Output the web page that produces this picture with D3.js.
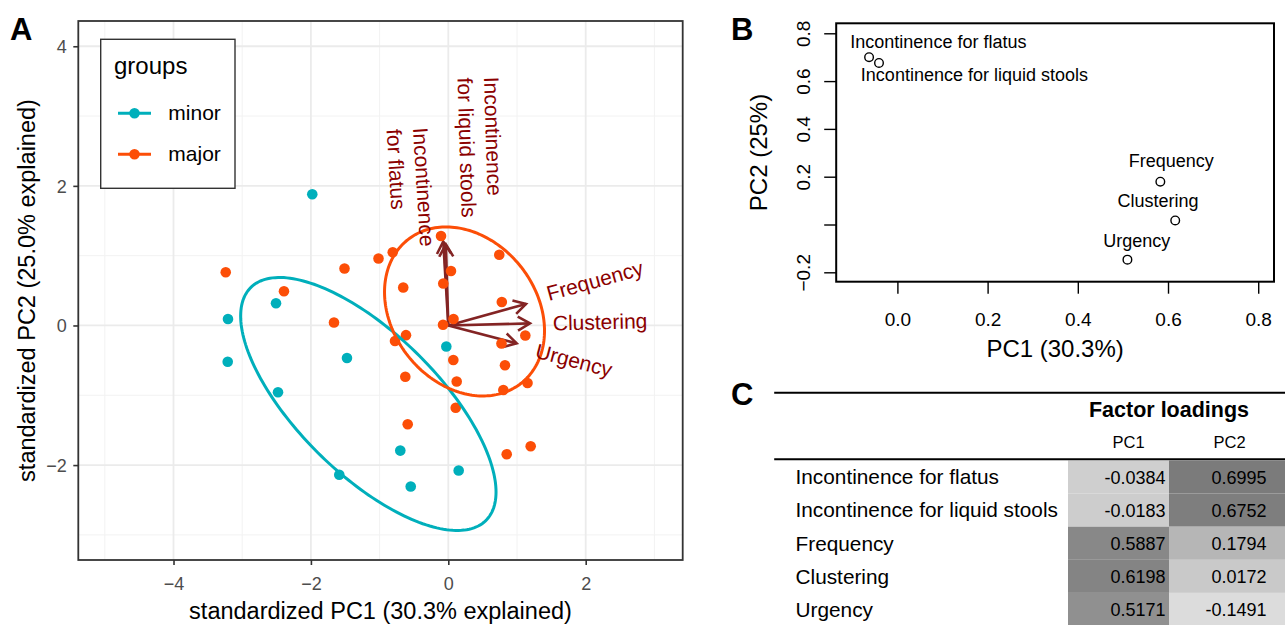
<!DOCTYPE html>
<html>
<head>
<meta charset="utf-8">
<script src="https://cdn.jsdelivr.net/npm/d3@7"></script>
<style>
  body { margin: 0; background: #fff; }
  svg { display: block; font-family: "Liberation Sans", Arial, Helvetica, sans-serif; }
</style>
</head>
<body>
<svg id="chart" width="1285" height="625"></svg>
<script>

// ---- data ----

// panel A: standardized PC scores
const groups = ["minor", "major"];
const minorX = [-1.980, -2.508, -3.207, -3.211, -2.479, -1.475, -0.029, -0.699, 0.151, -0.547, -1.587];
const minorY = [1.880, 0.318, 0.093, -0.519, -0.957, -0.466, -0.301, -1.793, -2.077, -2.307, -2.138];
const majorX = [-3.240, -2.392, -1.511, -1.016, -0.809, -0.106, 0.039, -0.073, -0.656, 0.742,
                0.779, 0.076, -0.077, -1.664, 1.121, 0.774, -0.616, -0.776, 0.073, 0.825,
                -0.626, 0.122, 1.153, 0.801, 0.108, -0.591, 0.850, 1.199];
const majorY = [0.762, 0.490, 0.817, 0.960, 1.049, 1.282, 0.781, 0.602, 0.544, 1.013,
                0.337, 0.093, 0.011, 0.043, -0.143, -0.258, -0.139, -0.222, -0.494, -0.570,
                -0.734, -0.802, -0.824, -0.924, -1.178, -1.415, -1.845, -1.731];

// ellipses (centre and covariance-like shape), one per group
const ellipseCx = [-1.164, 0.236];
const ellipseCy = [-1.125, 0.201];
const ellipseSxx = [3.455, 1.356];
const ellipseSyy = [3.285, 1.466];
const ellipseSxy = [-2.343, -0.323];

// variable arrows
const variables = ["Incontinence for flatus", "Incontinence for liquid stools", "Frequency", "Clustering", "Urgency"];
const arrowX = [-0.074, -0.035, 1.131, 1.189, 0.995];
const arrowY = [1.203, 1.161, 0.308, 0.030, -0.256];
const arrowLabelLines = [["Incontinence", "for flatus"], ["Incontinence", "for liquid stools"], ["Frequency"], ["Clustering"], ["Urgency"]];
const arrowLabelX = [-0.514, 0.520, 1.466, 1.524, 1.252];
const arrowLabelY = [2.830, 3.560, 0.351, -0.072, -0.458];

const aTicksX = [-4, -2, 0, 2];
const aTicksY = [-2, 0, 2, 4];
const aMinorX = [-5, -3, -1, 1, 3];
const aMinorY = [-3, -1, 1, 3];

// panel B: loadings plot
const bX = [-0.0628, -0.0408, 0.583, 0.616, 0.510];
const bY = [0.700, 0.676, 0.179, 0.017, -0.147];
const bLabelX = [-0.1044, -0.081, 0.513, 0.488, 0.4565];
const bLabelY = [0.737, 0.600, 0.242, 0.0745, -0.093];
const bTicksX = [0, 0.2, 0.4, 0.6, 0.8];
const bTickLabelsX = ["0.0", "0.2", "0.4", "0.6", "0.8"];
const bTicksY = [-0.2, 0, 0.2, 0.4, 0.6, 0.8];
const bTickLabelsY = ["\u22120.2", "", "0.2", "0.4", "0.6", "0.8"];

// panel C: factor loadings table
const components = ["PC1", "PC2"];
const loadPC1 = [-0.0384, -0.0183, 0.5887, 0.6198, 0.5171];
const loadPC2 = [0.6995, 0.6752, 0.1794, 0.0172, -0.1491];


const svg = d3.select("#chart");
const groupColor = d3.scaleOrdinal(groups, ["#00AFBB", "#FC4E07"]);
const narrowFont = "'Liberation Sans Narrow', 'Arial Narrow', 'Liberation Sans', sans-serif";

// ================= PANEL A =================
const A = { left: 78.3, right: 682.7, top: 21, bottom: 560 };
const xA = d3.scaleLinear([-5.386, 3.412], [A.left, A.right]);
const yA = d3.scaleLinear([-3.36, 4.362], [A.bottom, A.top]);

svg.append("defs").append("clipPath").attr("id", "clipA")
  .append("rect").attr("x", A.left).attr("y", A.top)
  .attr("width", A.right - A.left).attr("height", A.bottom - A.top);

const gA = svg.append("g");
const plotA = gA.append("g").attr("clip-path", "url(#clipA)");

// grid
plotA.selectAll(".minx").data(aMinorX).join("line")
  .attr("x1", d => xA(d)).attr("x2", d => xA(d)).attr("y1", A.top).attr("y2", A.bottom)
  .attr("stroke", "#f2f2f2").attr("stroke-width", 1);
plotA.selectAll(".miny").data(aMinorY).join("line")
  .attr("y1", d => yA(d)).attr("y2", d => yA(d)).attr("x1", A.left).attr("x2", A.right)
  .attr("stroke", "#f2f2f2").attr("stroke-width", 1);
plotA.selectAll(".majx").data(aTicksX).join("line")
  .attr("x1", d => xA(d)).attr("x2", d => xA(d)).attr("y1", A.top).attr("y2", A.bottom)
  .attr("stroke", "#ebebeb").attr("stroke-width", 1.8);
plotA.selectAll(".majy").data(aTicksY).join("line")
  .attr("y1", d => yA(d)).attr("y2", d => yA(d)).attr("x1", A.left).attr("x2", A.right)
  .attr("stroke", "#ebebeb").attr("stroke-width", 1.8);

// arrows
const arrowColor = "#832424";
const arrows = variables.map((v, i) => ({ name: v, x: arrowX[i], y: arrowY[i], lines: arrowLabelLines[i], lx: arrowLabelX[i], ly: arrowLabelY[i] }));

function arrowHead(x0, y0, x1, y1, len, ang) {
  const a = Math.atan2(y1 - y0, x1 - x0);
  const p1 = [x1 - len * Math.cos(a - ang), y1 - len * Math.sin(a - ang)];
  const p2 = [x1 - len * Math.cos(a + ang), y1 - len * Math.sin(a + ang)];
  return `M${p1[0]},${p1[1]}L${x1},${y1}L${p2[0]},${p2[1]}`;
}

plotA.selectAll(".arrowline").data(arrows).join("line")
  .attr("x1", xA(0)).attr("y1", yA(0))
  .attr("x2", d => xA(d.x)).attr("y2", d => yA(d.y))
  .attr("stroke", arrowColor).attr("stroke-width", 2.6);
plotA.selectAll(".arrowhead").data(arrows).join("path")
  .attr("d", d => arrowHead(xA(0), yA(0), xA(d.x), yA(d.y), 14, Math.PI / 6))
  .attr("fill", "none").attr("stroke", arrowColor).attr("stroke-width", 2.6)
  .attr("stroke-linejoin", "miter");

// points
const points = [];
minorX.forEach((x, i) => points.push({ g: "minor", x: x, y: minorY[i] }));
majorX.forEach((x, i) => points.push({ g: "major", x: x, y: majorY[i] }));

plotA.selectAll(".pt").data(points).join("circle")
  .attr("cx", d => xA(d.x)).attr("cy", d => yA(d.y)).attr("r", 5.3)
  .attr("fill", d => groupColor(d.g));

// ellipses
const ellipseLine = d3.line().x(d => xA(d[0])).y(d => yA(d[1]));
groups.forEach((g, i) => {
  const a = Math.sqrt(ellipseSxx[i]);
  const b = ellipseSxy[i] / a;
  const c = Math.sqrt(ellipseSyy[i] - b * b);
  const pts = d3.range(0, 201).map(k => {
    const t = k / 200 * 2 * Math.PI;
    return [ellipseCx[i] + a * Math.cos(t), ellipseCy[i] + b * Math.cos(t) + c * Math.sin(t)];
  });
  plotA.append("path").attr("d", ellipseLine(pts))
    .attr("fill", "none").attr("stroke", groupColor(g)).attr("stroke-width", 3);
});

// arrow labels
arrows.forEach(d => {
  const dx = xA(d.x) - xA(0), dy = yA(d.y) - yA(0);
  const ang = Math.atan(dy / dx) * 180 / Math.PI;
  const t = gA.append("text")
    .attr("transform", `translate(${xA(d.lx)},${yA(d.ly)}) rotate(${ang})`)
    .attr("font-size", 21).attr("fill", "#8B0000");
  d.lines.forEach((ln, j) => {
    t.append("tspan").attr("x", 0).attr("dy", j === 0 ? 0 : "1.26em").text(ln);
  });
});

// border
gA.append("rect").attr("x", A.left).attr("y", A.top)
  .attr("width", A.right - A.left).attr("height", A.bottom - A.top)
  .attr("fill", "none").attr("stroke", "#333").attr("stroke-width", 1.8);

// axes
const axA_x = gA.append("g").attr("transform", `translate(0,${A.bottom})`)
  .call(d3.axisBottom(xA).tickValues(aTicksX).tickSize(5));
axA_x.select(".domain").remove();
axA_x.selectAll("line").attr("stroke", "#333").attr("stroke-width", 1.6);
axA_x.selectAll("text").attr("y", 30).attr("dy", 0)
  .attr("font-size", 18).attr("fill", "#4d4d4d").attr("font-family", null);

const axA_y = gA.append("g").attr("transform", `translate(${A.left},0)`)
  .call(d3.axisLeft(yA).tickValues(aTicksY).tickSize(5));
axA_y.select(".domain").remove();
axA_y.selectAll("line").attr("stroke", "#333").attr("stroke-width", 1.6);
axA_y.selectAll("text").attr("x", -11.6).attr("dy", "0.36em")
  .attr("font-size", 18).attr("fill", "#4d4d4d").attr("font-family", null);

gA.append("text").attr("x", (A.left + A.right) / 2).attr("y", 619)
  .attr("text-anchor", "middle").attr("font-size", 23.5)
  .text("standardized PC1 (30.3% explained)");
gA.append("text").attr("transform", `translate(35,${(A.top + A.bottom) / 2}) rotate(-90)`)
  .attr("text-anchor", "middle").attr("font-size", 23.5)
  .text("standardized PC2 (25.0% explained)");

// legend
const legend = gA.append("g");
legend.append("rect").attr("x", 100.7).attr("y", 39.3).attr("width", 134.3).attr("height", 149)
  .attr("fill", "#fff").attr("stroke", "#333").attr("stroke-width", 1.4);
legend.append("text").attr("x", 114).attr("y", 74).attr("font-size", 24).text("groups");
const legY = d3.scalePoint(groups, [113.3, 154.3]);
const item = legend.selectAll(".item").data(groups).join("g")
  .attr("transform", d => `translate(0,${legY(d)})`);
item.append("line").attr("x1", 118).attr("x2", 151)
  .attr("stroke", d => groupColor(d)).attr("stroke-width", 3);
item.append("circle").attr("cx", 134.5).attr("r", 5.3).attr("fill", d => groupColor(d));
item.append("text").attr("x", 168.3).attr("y", 7).attr("font-size", 21).text(d => d);

svg.append("text").attr("x", 10).attr("y", 40).attr("font-size", 31)
  .attr("font-weight", "bold").text("A");

// ================= PANEL B =================
const B = { left: 836.2, right: 1274, top: 23.3, bottom: 281.7 };
const xB = d3.scaleLinear([-0.1357, 0.835], [B.left, B.right]);
const yB = d3.scaleLinear([-0.2393, 0.8418], [B.bottom, B.top]);
const gB = svg.append("g");

gB.selectAll(".bpt").data(variables).join("circle")
  .attr("cx", (d, i) => xB(bX[i])).attr("cy", (d, i) => yB(bY[i])).attr("r", 4.3)
  .attr("fill", "none").attr("stroke", "#000").attr("stroke-width", 1.4);
gB.selectAll(".blab").data(variables).join("text")
  .attr("x", (d, i) => xB(bLabelX[i])).attr("y", (d, i) => yB(bLabelY[i]))
  .attr("font-size", 18).text(d => d);

gB.append("rect").attr("x", B.left).attr("y", B.top)
  .attr("width", B.right - B.left).attr("height", B.bottom - B.top)
  .attr("fill", "none").attr("stroke", "#000").attr("stroke-width", 2);

const axB_x = gB.append("g").attr("transform", `translate(0,${B.bottom})`)
  .call(d3.axisBottom(xB).tickValues(bTicksX).tickSize(12).tickFormat((d, i) => bTickLabelsX[i]));
axB_x.select(".domain").remove();
axB_x.selectAll("line").attr("stroke", "#000").attr("stroke-width", 1.4);
axB_x.selectAll("text").attr("y", 44.5).attr("dy", 0)
  .attr("font-size", 19).attr("fill", "#000").attr("font-family", null);

const axB_y = gB.append("g").attr("transform", `translate(${B.left},0)`)
  .call(d3.axisLeft(yB).tickValues(bTicksY).tickSize(12).tickFormat((d, i) => bTickLabelsY[i]));
axB_y.select(".domain").remove();
axB_y.selectAll("line").attr("stroke", "#000").attr("stroke-width", 1.4);
axB_y.selectAll("text").attr("transform", "rotate(-90)")
  .attr("x", 0).attr("y", -26).attr("dy", 0).attr("text-anchor", "middle")
  .attr("font-size", 19).attr("fill", "#000").attr("font-family", null);

gB.append("text").attr("x", (B.left + B.right) / 2).attr("y", 357)
  .attr("text-anchor", "middle").attr("font-size", 24).text("PC1 (30.3%)");
gB.append("text").attr("transform", `translate(767,${(B.top + B.bottom) / 2}) rotate(-90)`)
  .attr("text-anchor", "middle").attr("font-size", 24).text("PC2 (25%)");

svg.append("text").attr("x", 731).attr("y", 40).attr("font-size", 31)
  .attr("font-weight", "bold").text("B");

// ================= PANEL C =================
const gC = svg.append("g");
svg.append("text").attr("x", 731).attr("y", 405).attr("font-size", 31)
  .attr("font-weight", "bold").text("C");

const tableLeft = 774.2, tableRight = 1285;
const xC = d3.scaleBand(components, [1068, 1270]);
const yC = d3.scaleBand(variables, [460.5, 626]);
const shade = d3.scaleLinear([-0.15, 0.70], ["#dcdcdc", "#7b7b7b"]);

const cells = [];
variables.forEach((v, i) => {
  cells.push({ row: v, col: "PC1", value: loadPC1[i] });
  cells.push({ row: v, col: "PC2", value: loadPC2[i] });
});

gC.selectAll(".cell").data(cells).join("rect")
  .attr("x", d => xC(d.col)).attr("y", d => yC(d.row))
  .attr("width", d => d.col === "PC2" ? tableRight - xC(d.col) : xC.bandwidth())
  .attr("height", yC.bandwidth())
  .attr("fill", d => shade(d.value));

gC.selectAll(".num").data(cells).join("text")
  .attr("x", d => xC(d.col) + xC.bandwidth() - 3.5)
  .attr("y", d => yC(d.row) + yC.bandwidth() / 2 + 6.5)
  .attr("text-anchor", "end")
  .attr("font-family", narrowFont)
  .attr("font-size", 18)
  .text(d => d3.format(".4f")(d.value).replace("\u2212", "-"));

gC.selectAll(".rowlab").data(variables).join("text")
  .attr("x", 795.5).attr("y", d => yC(d) + yC.bandwidth() / 2 + 7.3)
  .attr("font-size", 20.8).text(d => d);

gC.append("line").attr("x1", tableLeft).attr("x2", tableRight).attr("y1", 392.7).attr("y2", 392.7)
  .attr("stroke", "#000").attr("stroke-width", 2);
gC.append("line").attr("x1", tableLeft).attr("x2", tableRight).attr("y1", 459.3).attr("y2", 459.3)
  .attr("stroke", "#000").attr("stroke-width", 2);

gC.append("text").attr("x", (xC("PC1") + xC("PC2") + xC.bandwidth()) / 2).attr("y", 416.7)
  .attr("text-anchor", "middle").attr("font-size", 21.5).attr("font-weight", "bold")
  .text("Factor loadings");
gC.selectAll(".colhead").data(components).join("text")
  .attr("x", d => xC(d) + xC.bandwidth() * 0.6).attr("y", 447.5)
  .attr("text-anchor", "middle").attr("font-family", narrowFont)
  .attr("font-size", 16.5).text(d => d);

</script>
</body>
</html>
